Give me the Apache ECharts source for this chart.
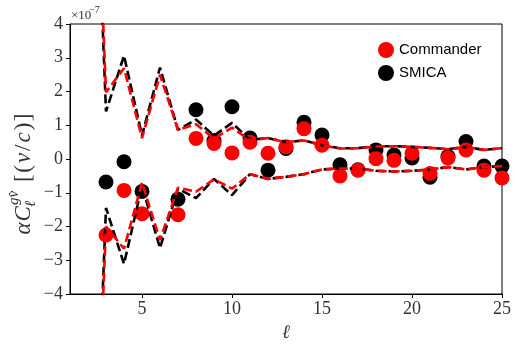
<!DOCTYPE html>
<html>
<head>
<meta charset="utf-8">
<script src="https://cdn.jsdelivr.net/npm/echarts@6/dist/echarts.min.js"></script>
<style>
  html, body { margin: 0; padding: 0; background: #fff; }
  #chart { width: 517px; height: 347px; }
</style>
</head>
<body>
<div id="chart"></div>
<script>
// Multipoles used by the error envelopes (l = 2 sits far off the plotted range)
const ellLine = [2, 3, 4, 5, 6, 7, 8, 9, 10, 11, 12, 13, 14, 15, 16, 17, 18, 19, 20, 21, 22, 23, 24, 25];
// Envelope values, in units of 1e-7
const smicaUpper = [15, 1.41, 3.06, 0.70, 2.71, 0.86, 1.17, 0.69, 1.07, 0.57, 0.62, 0.50, 0.55, 0.41, 0.32, 0.32, 0.38, 0.38, 0.36, 0.33, 0.29, 0.36, 0.27, 0.32];
const smicaLower = [-15, -1.45, -3.11, -0.80, -2.64, -0.88, -1.16, -0.59, -1.07, -0.45, -0.59, -0.53, -0.45, -0.31, -0.28, -0.28, -0.35, -0.37, -0.35, -0.31, -0.24, -0.31, -0.24, -0.21];
const commanderUpper = [15, 1.98, 2.69, 0.62, 2.49, 0.86, 1.03, 0.60, 0.93, 0.55, 0.62, 0.50, 0.55, 0.41, 0.31, 0.32, 0.37, 0.38, 0.36, 0.33, 0.29, 0.35, 0.27, 0.32];
const commanderLower = [-15, -2.00, -2.66, -0.70, -2.40, -0.85, -0.97, -0.60, -0.88, -0.45, -0.59, -0.53, -0.45, -0.31, -0.28, -0.28, -0.35, -0.37, -0.35, -0.31, -0.24, -0.31, -0.24, -0.21];

// Measured points (units of 1e-7); no estimate at l = 6
const ellPts = [3, 4, 5, 6, 7, 8, 9, 10, 11, 12, 13, 14, 15, 16, 17, 18, 19, 20, 21, 22, 23, 24, 25];
const smicaPts = [-0.68, -0.08, -0.96, null, -1.19, 1.46, 0.55, 1.55, 0.62, -0.33, 0.31, 1.09, 0.71, -0.17, -0.32, 0.27, 0.12, 0.03, -0.54, 0.07, 0.52, -0.21, -0.21];
const commanderPts = [-2.25, -0.93, -1.62, null, -1.65, 0.61, 0.46, 0.18, 0.50, 0.17, 0.36, 0.90, 0.41, -0.50, -0.33, 0.01, -0.04, 0.17, -0.43, 0.03, 0.27, -0.33, -0.56];

const xTicks = [5, 10, 15, 20, 25];

const SERIF = '"Liberation Serif", "DejaVu Serif", serif';
const SANS = '"Liberation Sans", Arial, sans-serif';

const pair = (xs, ys) => xs.map((x, i) => [x, ys[i]]).filter(p => p[1] !== null);

function envelope(name, ys, color, offset) {
  return {
    type: 'line', name: name, data: pair(ellLine, ys),
    symbol: 'none', silent: true, z: 3, clip: true,
    lineStyle: { color: color, width: 2.6, type: [9, 4], dashOffset: offset }
  };
}
function points(name, ys, color, z) {
  return {
    type: 'scatter', name: name, data: pair(ellPts, ys),
    symbol: 'circle', symbolSize: 15, z: z,
    itemStyle: { color: color, opacity: 1 }
  };
}

// Rotated y-axis label, laid out glyph by glyph along the baseline with math-style spacing
const ctx = document.createElement('canvas').getContext('2d');
function w(text, font) { ctx.font = font; return ctx.measureText(text).width; }
const fIt = 'italic 23px ' + SERIF;
const fRm = '23px ' + SERIF;
const fSmall = 'italic 15px ' + SERIF;
// each piece: text, font, space after it
const pieces = [
  { t: 'α', f: fIt, after: 1 }, { t: 'C', f: fIt, after: 0 }, { script: true, after: 9 },
  { t: '[', f: fRm, after: 1.5 }, { t: '(', f: fRm, after: 2 }, { t: 'v', f: fIt, after: 2 },
  { t: '/', f: fRm, after: 2 }, { t: 'c', f: fIt, after: 2 }, { t: ')', f: fRm, after: 1.5 },
  { t: ']', f: fRm, after: 0 }
];
const scriptW = Math.max(w('ℓ', fSmall), w('gv̂', fSmall)) + 1;
const labelChildren = [];
let cursor = 0;
pieces.forEach(p => {
  if (p.script) {
    labelChildren.push({ type: 'text', x: cursor - 1, y: 7, style: { text: 'ℓ', font: fSmall, fill: '#333', textVerticalAlign: 'middle' } });
    labelChildren.push({ type: 'text', x: cursor + 1, y: -10, style: { text: 'gv̂', font: fSmall, fill: '#333', textVerticalAlign: 'middle' } });
    cursor += scriptW + p.after;
  } else {
    labelChildren.push({ type: 'text', x: cursor, y: 0, style: { text: p.t, font: p.f, fill: '#333', textVerticalAlign: 'middle' } });
    cursor += w(p.t, p.f) + p.after;
  }
});
const yLabelCenter = 174;

const chart = echarts.init(document.getElementById('chart'), null, { renderer: 'canvas' });
chart.setOption({
  animation: false,
  backgroundColor: '#ffffff',
  grid: { left: 70, right: 15, top: 24, bottom: 43, show: true, borderColor: '#000', borderWidth: 1, backgroundColor: 'transparent' },
  legend: {
    data: ['Commander', 'SMICA'],
    orient: 'vertical', left: 373, top: 37, itemGap: 7,
    itemWidth: 16, itemHeight: 16, icon: 'circle',
    textStyle: { fontFamily: SANS, fontSize: 15, color: '#000' }
  },
  xAxis: {
    type: 'value', min: 1, max: 25,
    name: 'ℓ', nameLocation: 'middle', nameGap: 29,
    nameTextStyle: { fontFamily: SERIF, fontStyle: 'italic', fontSize: 19, color: '#333' },
    axisLine: { onZero: false, lineStyle: { color: '#000', width: 1 } },
    axisTick: { show: true, length: 4, lineStyle: { color: '#000' }, customValues: xTicks },
    axisLabel: { customValues: xTicks, fontFamily: SERIF, fontSize: 18, color: '#333', margin: 6 },
    splitLine: { show: false }
  },
  yAxis: {
    type: 'value', min: -4, max: 4, interval: 1,
    axisLine: { show: true, onZero: false, lineStyle: { color: '#000', width: 1 } },
    axisTick: { show: true, length: 4, lineStyle: { color: '#000' } },
    axisLabel: {
      fontFamily: SERIF, fontSize: 18, color: '#333', margin: 7,
      formatter: v => String(v).replace('-', '−')
    },
    splitLine: { show: false }
  },
  graphic: [
    {
      type: 'group', x: 24, y: yLabelCenter + cursor / 2, rotation: Math.PI / 2,
      children: labelChildren
    },
    {
      type: 'text', left: 71, top: 9,
      style: { text: '×10', font: '13px ' + SERIF, fill: '#333' }
    },
    {
      type: 'text', left: 89, top: 5,
      style: { text: '−7', font: '10px ' + SERIF, fill: '#333' }
    }
  ],
  series: [
    points('SMICA', smicaPts, '#000000', 2),
    points('Commander', commanderPts, '#ff0000', 2),
    envelope('smicaUpper', smicaUpper, '#000000', 0),
    envelope('smicaLower', smicaLower, '#000000', 0),
    envelope('commanderUpper', commanderUpper, '#ff0000', 6),
    envelope('commanderLower', commanderLower, '#ff0000', 6)
  ]
});
</script>
</body>
</html>
